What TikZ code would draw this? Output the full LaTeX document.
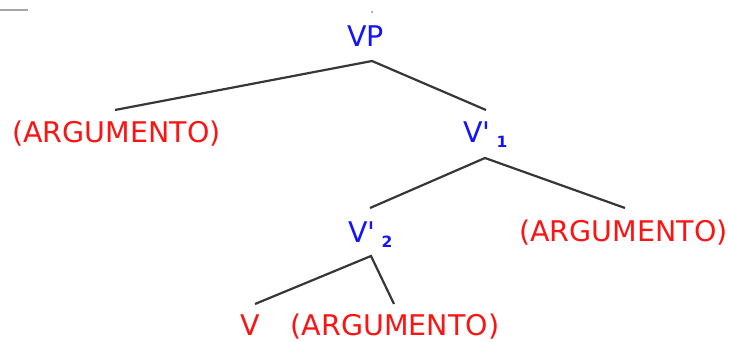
\documentclass[tikz,border=0pt]{standalone}
\usepackage{fontspec}
\setmainfont{DejaVu Sans}
\newfontfamily\subfont{DejaVu Sans Bold}
\definecolor{catblue}{RGB}{20,20,250}
\definecolor{argred}{RGB}{250,20,20}
\definecolor{edgegray}{RGB}{55,55,55}
\tikzset{
  cat/.style={anchor=base, inner sep=0pt, text=catblue, font=\fontsize{28.5}{34}\selectfont},
  arg/.style={anchor=base, inner sep=0pt, text=argred, font=\fontsize{28.5}{34}\selectfont},
  edge/.style={draw=edgegray, line width=2.2pt},
}
\newcommand{\vbar}[1]{V\textquotesingle\kern6pt\raisebox{-4.5pt}{\subfont\fontsize{15.5}{18}\selectfont #1}}
\begin{document}
\begin{tikzpicture}[x=1pt,y=-1pt]
\useasboundingbox (0,0) rectangle (729,342);
% faint artifacts
\draw[gray!70, line width=2pt] (0,10) -- (28,10);
\fill[gray] (372,12) circle (1pt);
% labels
\node[cat] (vp) at (365.5,47) {VP};
\node[arg] (argA) at (116.5,143) {(ARGUMENTO)};
\node[cat, anchor=base west] (v1) at (463,143) {\vbar{1}};
\node[cat, anchor=base west] (v2) at (348,243) {\vbar{2}};
\node[arg] (argB) at (623.5,241) {(ARGUMENTO)};
\node[arg] (vv) at (250,335) {V};
\node[arg] (argC) at (395,335) {(ARGUMENTO)};
% branch points
\coordinate (vpTop) at (372,61);
\coordinate (vpL) at (115,110);
\coordinate (vpR) at (486,110);
\coordinate (v1Top) at (485,158);
\coordinate (v1L) at (370,208);
\coordinate (v1R) at (625,208);
\coordinate (v2Top) at (371,256);
\coordinate (v2L) at (255,304);
\coordinate (v2R) at (394,304);
\draw[edge] (vpL) -- (vpTop) -- (vpR);
\draw[edge] (v1L) -- (v1Top) -- (v1R);
\draw[edge] (v2L) -- (v2Top) -- (v2R);
\end{tikzpicture}
\end{document}
